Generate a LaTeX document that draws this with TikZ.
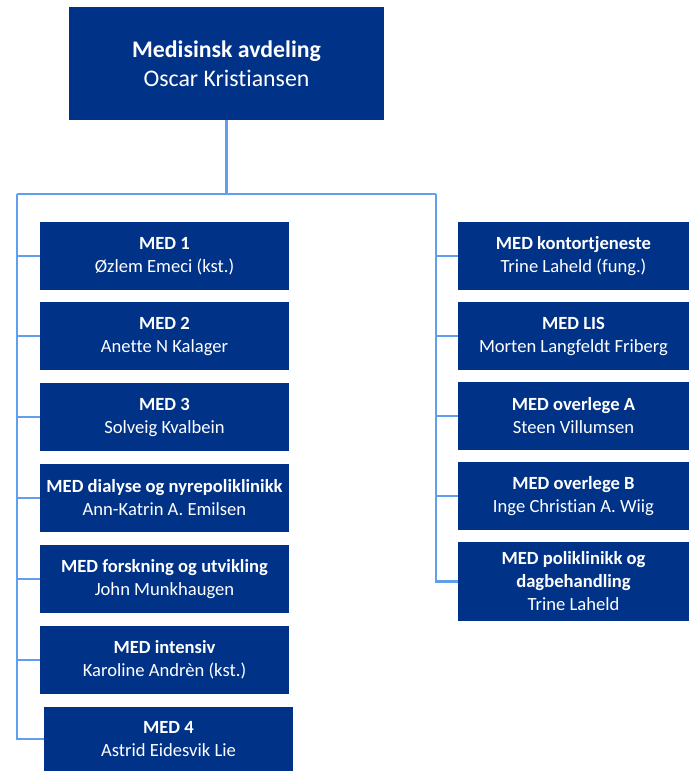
\documentclass[tikz,border=0pt]{standalone}
\usepackage{fontspec}
\setmainfont{Carlito}[Ligatures=NoCommon]
\definecolor{boxblue}{RGB}{0,50,136}
\definecolor{lineblue}{RGB}{98,158,238}

\begin{document}
\begin{tikzpicture}[x=1pt, y=-1pt,
  head/.style={fill=boxblue, text=white, align=center, inner sep=0pt,
    minimum width=315pt, minimum height=113pt,
    font=\fontsize{23.8}{29}\selectfont},
  unit/.style={fill=boxblue, text=white, align=center, inner sep=0pt,
    minimum width=249pt, minimum height=68pt,
    font=\fontsize{18.6}{23}\selectfont},
  runit/.style={unit, minimum width=231pt},
  conn/.style={draw=lineblue, line width=2.5pt, line join=miter}]
		\useasboundingbox (0,0) rectangle (690,772);
		\node[head] (top) at (226.5,63.5) {\textbf{Medisinsk avdeling}\\Oscar Kristiansen};
		
		% left column
		\node[unit] (l1) at (164.5,256) {\textbf{MED 1}\\Øzlem Emeci (kst.)};
		\node[unit] (l2) at (164.5,336) {\textbf{MED 2}\\Anette N Kalager};
		\node[unit] (l3) at (164.5,417) {\textbf{MED 3}\\Solveig Kvalbein};
		\node[unit] (l4) at (164.5,498) {\textbf{MED dialyse og nyrepoliklinikk}\\Ann-Katrin A. Emilsen};
		\node[unit] (l5) at (164.5,579) {\textbf{MED forskning og utvikling}\\John Munkhaugen};
		\node[unit] (l6) at (164.5,660) {\textbf{MED intensiv}\\Karoline Andrèn (kst.)};
		\node[unit, minimum height=64pt] (l7) at (168.5,739) {\textbf{MED 4}\\Astrid Eidesvik Lie};
		
		% right column
		\node[runit] (r1) at (573.5,256) {\textbf{MED kontortjeneste}\\Trine Laheld (fung.)};
		\node[runit] (r2) at (573.5,336) {\textbf{MED LIS}\\Morten Langfeldt Friberg};
		\node[runit] (r3) at (573.5,416) {\textbf{MED overlege A}\\Steen Villumsen};
		\node[runit] (r4) at (573.5,496) {\textbf{MED overlege B}\\Inge Christian A. Wiig};
		\node[runit, minimum height=79pt] (r5) at (573.5,581.5) {\textbf{MED poliklinikk og}\\\textbf{dagbehandling}\\Trine Laheld};
		
		\coordinate (jl) at (17,194);
		\coordinate (jr) at (436,194);
		
		\draw[conn] (top.south) -- (top.south |- jl);
		\draw[conn] (jl) -- (jr);
		\draw[conn] (jl) |- (l7.west);
		\draw[conn] (jr) |- (r5.west);
		\foreach \n in {l1,l2,l3,l4,l5,l6}
			\draw[conn] (jl |- \n.west) -- (\n.west);
		\foreach \n in {r1,r2,r3,r4}
			\draw[conn] (jr |- \n.west) -- (\n.west);
	\end{tikzpicture}
\end{document}
